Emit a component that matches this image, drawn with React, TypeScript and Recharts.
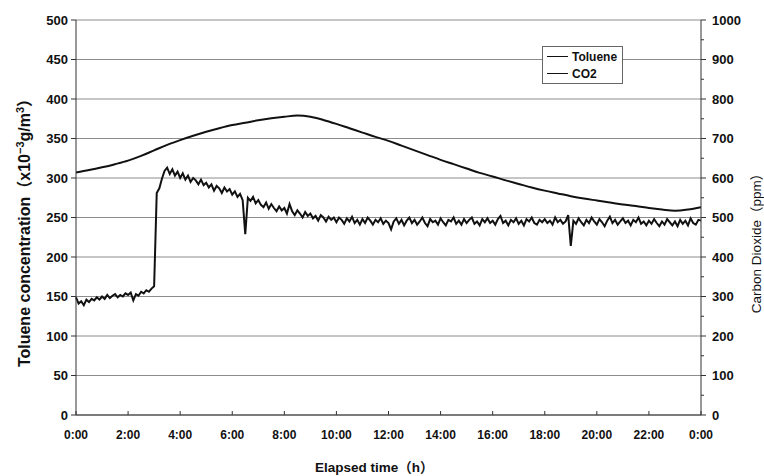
import { LineChart, Line, XAxis, YAxis, CartesianGrid, Legend } from 'recharts'

// toluene readings, 10 per hour (every 6 min), x10^-3 g/m3
const tolueneByHour: number[][] = [
  [149, 141, 144, 139, 146, 143, 147, 145, 149, 146],
  [150, 147, 152, 148, 151, 153, 149, 152, 150, 154],
  [152, 155, 145, 153, 151, 156, 154, 158, 156, 160],
  [163, 281, 287, 299, 309, 313, 305, 311, 303, 308],
  [300, 306, 298, 303, 295, 300, 297, 292, 298, 291],
  [294, 288, 292, 284, 290, 287, 281, 288, 283, 286],
  [279, 283, 276, 280, 272, 229, 275, 271, 276, 268],
  [272, 266, 263, 269, 261, 267, 262, 258, 264, 259],
  [262, 255, 267, 258, 253, 259, 255, 250, 257, 252],
  [255, 249, 252, 246, 253, 250, 245, 251, 247, 250],
  [244, 250, 247, 242, 249, 245, 251, 243, 247, 241],
  [248, 243, 250, 246, 241, 247, 244, 249, 242, 246],
  [243, 235, 245, 249, 242, 247, 240, 246, 250, 243],
  [247, 241, 245, 250, 243, 239, 248, 244, 246, 241],
  [249, 244, 240, 247, 245, 250, 242, 246, 241, 248],
  [243, 247, 250, 242, 245, 240, 248, 244, 249, 243],
  [246, 241, 248, 252, 243, 246, 240, 247, 244, 249],
  [242, 246, 240, 248, 245, 250, 243, 241, 247, 244],
  [248, 243, 246, 241, 250, 244, 247, 242, 245, 253],
  [214, 246, 242, 249, 244, 240, 247, 243, 250, 245],
  [241, 248, 244, 239, 246, 251, 243, 247, 241, 245],
  [249, 243, 246, 240, 247, 244, 250, 242, 245, 240],
  [246, 242, 248, 243, 239, 245, 241, 248, 244, 240],
  [245, 239, 247, 242, 246, 240, 249, 243, 241, 247],
]
const tolueneLast = 246

// CO2 every half hour, ppm
const co2HalfHourly = [
  614, 620, 627, 635, 644, 656, 670, 684, 696, 707, 717, 726, 734, 740, 746, 751,
  755, 758, 755, 747, 737, 726, 715, 704, 694, 682, 670, 658, 646, 635, 624, 613,
  604, 594, 585, 576, 568, 561, 554, 548, 543, 538, 533, 529, 524, 520, 517, 520, 526,
]

const hourTicks = [0, 2, 4, 6, 8, 10, 12, 14, 16, 18, 20, 22, 24]
const hourLabels = ['0:00', '2:00', '4:00', '6:00', '8:00', '10:00', '12:00', '14:00', '16:00', '18:00', '20:00', '22:00', '0:00']
const leftTicks = [0, 50, 100, 150, 200, 250, 300, 350, 400, 450, 500]
const rightTicks = [0, 50, 100, 150, 200, 250, 300, 350, 400, 450, 500, 550, 600, 650, 700, 750, 800, 850, 900, 950, 1000]
const legendLabels = ['Toluene', 'CO2']

const FONT = "'Liberation Sans', Arial, 'Noto Sans CJK JP', sans-serif"
const INK = '#111'
const AXIS = '#333'

const rows: { t: number; toluene: number; co2?: number }[] = []
tolueneByHour.forEach((vals, h) => vals.forEach((v, i) => rows.push({ t: h + i / 10, toluene: v })))
rows.push({ t: 24, toluene: tolueneLast })
co2HalfHourly.forEach((v, k) => { rows[k * 5].co2 = v })

function XTick({ x, y, payload }: any) {
  const idx = hourTicks.indexOf(payload.value)
  return (
    <g>
      <line x1={x} x2={x} y1={y} y2={y - 4} stroke={AXIS} />
      <text x={x} y={y + 24} textAnchor="middle" fontSize={12} fontWeight="bold" fontFamily={FONT} fill={INK}>
        {hourLabels[idx]}
      </text>
    </g>
  )
}

function RightTick({ x, y, payload }: any) {
  const major = payload.value % 100 === 0
  return (
    <g>
      <line x1={x} x2={x + (major ? 5 : 3)} y1={y} y2={y} stroke={AXIS} />
      {major && (
        <text x={x + 11} y={y + 4.5} textAnchor="start" fontSize={13} fontWeight="bold" fontFamily={FONT} fill={INK}>
          {payload.value}
        </text>
      )}
    </g>
  )
}

const LeftTitle = () => (
  <text transform="translate(30, 229) rotate(-90)" textAnchor="middle" fontSize={16} fontWeight="bold" fontFamily={FONT} fill={INK}>
    Toluene concentration（x10<tspan dy={-6} fontSize={11}>−3</tspan><tspan dy={6}>g/m</tspan><tspan dy={-6} fontSize={11}>3</tspan><tspan dy={6}>）</tspan>
  </text>
)

const RightTitle = () => (
  <text transform="translate(761, 240) rotate(-90)" textAnchor="middle" fontSize={13.5} fontFamily={FONT} fill={INK}>
    Carbon Dioxide（ppm）
  </text>
)

const BottomTitle = () => (
  <text x={315} y={472} textAnchor="start" fontSize={13.5} fontWeight="bold" fontFamily={FONT} fill={INK}>
    Elapsed time（h）
  </text>
)

const LegendBox = () => (
  <div style={{ border: '1px solid #666', background: '#fff', padding: '1px 5px 1px 4px', fontFamily: FONT, fontSize: 12, fontWeight: 'bold', color: INK }}>
    {legendLabels.map((name) => (
      <div key={name} style={{ display: 'flex', alignItems: 'center', height: 17 }}>
        <span style={{ display: 'inline-block', width: 21, borderTop: `1.5px solid ${INK}`, marginRight: 4 }} />
        {name}
      </div>
    ))}
  </div>
)

export default function App() {
  return (
    <div style={{ position: 'absolute', left: 0, top: 0, width: 764, height: 476, background: '#fff' }}>
      <LineChart width={764} height={476} data={rows} margin={{ top: 20, right: 0, bottom: 0, left: 0 }}>
        <CartesianGrid yAxisId="left" vertical={false} stroke="#8c8c8c" />
        <XAxis dataKey="t" type="number" domain={[0, 24]} ticks={hourTicks} height={61}
          stroke={AXIS} tickLine={false} tickSize={0} tickMargin={0} tick={<XTick />}
          label={{ content: () => <BottomTitle /> }} />
        <YAxis yAxisId="left" domain={[0, 500]} ticks={leftTicks} width={76} stroke={AXIS}
          tickSize={5} tickMargin={3} tick={{ fontSize: 13, fontWeight: 'bold', fontFamily: FONT, fill: INK }}
          label={{ content: () => <LeftTitle /> }} />
        <YAxis yAxisId="right" orientation="right" domain={[0, 1000]} ticks={rightTicks} width={63}
          stroke={AXIS} tickLine={false} tickSize={0} tickMargin={0} tick={<RightTick />} interval={0}
          label={{ content: () => <RightTitle /> }} />
        <Legend layout="vertical" align="center" verticalAlign="middle" content={<LegendBox />}
          wrapperStyle={{ left: 542, top: 46, width: 'auto', height: 'auto' }} />
        <Line yAxisId="left" dataKey="toluene" name="Toluene" stroke={INK} strokeWidth={2}
          dot={false} type="linear" isAnimationActive={false} />
        <Line yAxisId="right" dataKey="co2" name="CO2" stroke={INK} strokeWidth={2}
          dot={false} type="monotone" connectNulls isAnimationActive={false} />
      </LineChart>
    </div>
  )
}
